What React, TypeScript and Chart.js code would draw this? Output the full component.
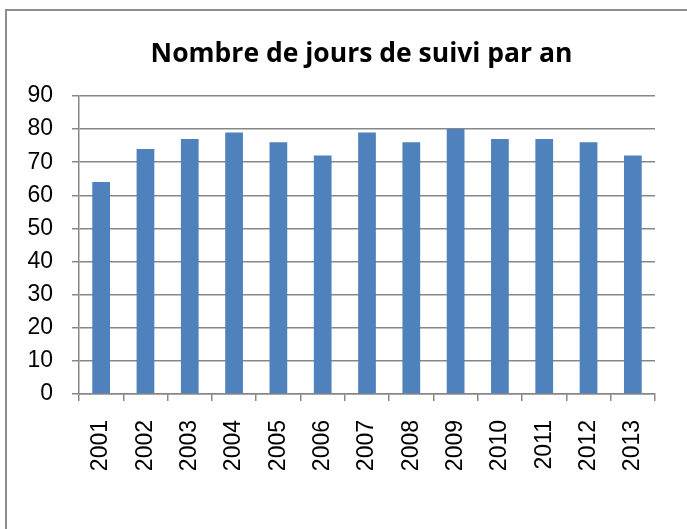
import React, { useEffect, useRef } from "react";
import { Chart, registerables } from "chart.js";

Chart.register(...registerables);

const TITLE = "Nombre de jours de suivi par an";
const years = ["2001", "2002", "2003", "2004", "2005", "2006", "2007", "2008", "2009", "2010", "2011", "2012", "2013"];
const days = [64, 74, 77, 79, 76, 72, 79, 76, 80, 77, 77, 76, 72];
const yMin = 0;
const yMax = 90;
const yStep = 10;

const W = 687;
const H = 529;

// Shift the title block to the centre of the (wider) frame, as in the original
const titleShift = {
  id: "titleShift",
  afterLayout(chart: any) {
    const t = chart.titleBlock;
    if (t) {
      t.left += 34;
      t.right += 34;
    }
  },
};

export default function App() {
  const ref = useRef<HTMLCanvasElement | null>(null);

  useEffect(() => {
    if (!ref.current) return;
    const gridColor = "#878787";
    const tickFont = { family: "'Liberation Sans', Arial, sans-serif", size: 23 };
    const chart = new Chart(ref.current, {
      type: "bar",
      data: {
        labels: years,
        datasets: [
          {
            data: days,
            backgroundColor: "#4F81BD",
            borderWidth: 0,
            categoryPercentage: 1,
            barPercentage: 0.4,
          },
        ],
      },
      plugins: [titleShift],
      options: {
        responsive: false,
        animation: false,
        devicePixelRatio: 1,
        layout: { padding: { left: 0, right: 32, top: 0, bottom: 0 } },
        plugins: {
          legend: { display: false },
          tooltip: { enabled: false },
          title: {
            display: true,
            text: TITLE,
            color: "#000",
            font: { family: "'Open Sans', sans-serif", size: 26.5, weight: "bold", lineHeight: 1.2 },
            padding: { top: 38.8, bottom: 25.4 },
          },
        },
        scales: {
          x: {
            grid: {
              display: true,
              drawOnChartArea: false,
              drawTicks: true,
              tickLength: 7,
              color: gridColor,
              lineWidth: 1.5,
              offset: true,
            },
            border: { display: true, color: gridColor, width: 1.5 },
            ticks: {
              color: "#000",
              font: tickFont,
              minRotation: 90,
              maxRotation: 90,
              padding: 19,
              autoSkip: false,
            },
            afterFit: (s: any) => {
              s.height = 135;
            },
          },
          y: {
            min: yMin,
            max: yMax,
            ticks: {
              stepSize: yStep,
              color: "#000",
              font: tickFont,
              padding: 19,
            },
            grid: {
              color: gridColor,
              lineWidth: 1.5,
              tickLength: 7,
              drawTicks: true,
            },
            border: { display: true, color: gridColor, width: 1.5 },
            afterFit: (s: any) => {
              s.width = 79;
            },
          },
        },
      },
    });
    return () => chart.destroy();
  }, []);

  return (
    <div
      style={{
        position: "fixed",
        left: 0,
        top: 0,
        width: W,
        height: H,
        background: "#fff",
        overflow: "hidden",
      }}
    >
      <div
        style={{
          position: "absolute",
          left: 5,
          top: 9,
          width: 760,
          height: 640,
          border: "2px solid #8c8c8c",
          boxSizing: "border-box",
        }}
      />
      <canvas
        ref={ref}
        width={W}
        height={H}
        style={{ position: "absolute", left: 0, top: 0, width: W, height: H }}
      />
    </div>
  );
}
